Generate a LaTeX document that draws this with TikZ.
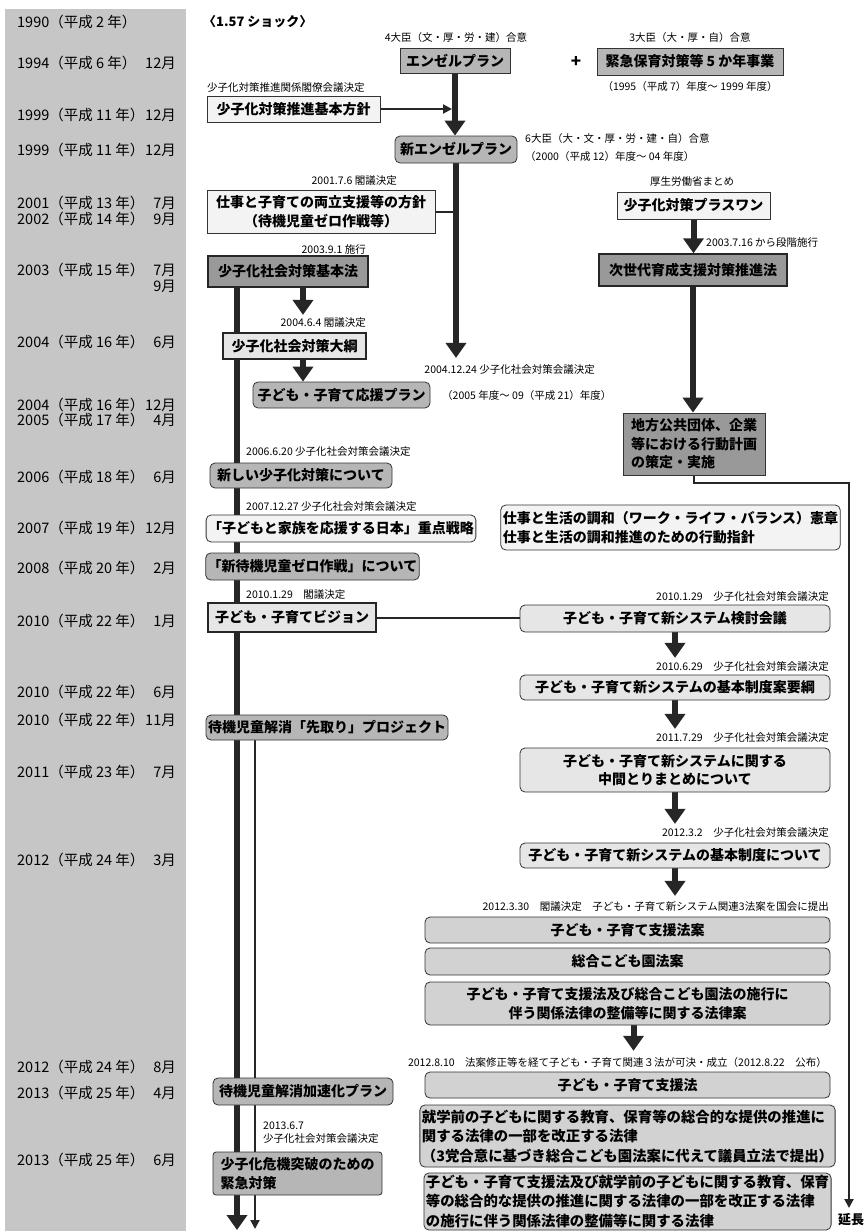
\documentclass[tikz,border=0pt]{standalone}
\usepackage{fontspec}
\setmainfont{Noto Sans CJK JP}
\usetikzlibrary{arrows.meta}

\definecolor{colYear}{HTML}{C6C6C6}
\definecolor{colMid}{HTML}{B6B6B6}
\definecolor{colDark}{HTML}{999999}
\definecolor{colLight}{HTML}{E6E6E6}
\definecolor{colBill}{HTML}{D2D2D2}
\definecolor{colPaper}{HTML}{F3F3F3}

\newcommand\fntBox{\fontsize{14}{18.5}\selectfont\bfseries}
\newcommand\fntWide{\fontsize{14.4}{19.5}\selectfont\bfseries}
\newcommand\fntNote{\fontsize{10.5}{13}\selectfont}
\newcommand\fntYear{\fontsize{14.5}{17}\selectfont}

\pgfdeclarelayer{background}
\pgfsetlayers{background,main}

\begin{document}
\begin{tikzpicture}[x=1pt, y=-1pt,
  box/.style={draw=black!80, line width=0.8pt, inner sep=2pt, align=center, font=\fntBox},
  rbox/.style={box, rounded corners=5pt},
  dbox/.style={box, draw=black!85, line width=1.4pt},
  note/.style={font=\fntNote, inner sep=1pt},
  yearlbl/.style={font=\fntYear, inner sep=0},
  bigarrow/.style={line width=6pt, draw=black!85, -{Triangle[width=20pt,length=15pt]}},
  thinarrow/.style={line width=2pt, draw=black!85, -{Triangle[width=9pt,length=9pt]}},
  link/.style={line width=2pt, draw=black!85}]

\useasboundingbox (0,0) rectangle (863,1231);

% year column
\foreach \yy/\yr/\mo [count=\i] in {
  22/{1990（平成 2 年）}/{},
  63/{1994（平成 6 年）}/{12月},
  115/{1999（平成 11 年）}/{12月},
  150/{1999（平成 11 年）}/{12月},
  203/{2001（平成 13 年）}/{7月},
  219/{2002（平成 14 年）}/{9月},
  270/{2003（平成 15 年）}/{7月},
  286/{}/{9月},
  342/{2004（平成 16 年）}/{6月},
  405/{2004（平成 16 年）}/{12月},
  420/{2005（平成 17 年）}/{4月},
  477/{2006（平成 18 年）}/{6月},
  528/{2007（平成 19 年）}/{12月},
  568/{2008（平成 20 年）}/{2月},
  621/{2010（平成 22 年）}/{1月},
  692/{2010（平成 22 年）}/{6月},
  720/{2010（平成 22 年）}/{11月},
  772/{2011（平成 23 年）}/{7月},
  860/{2012（平成 24 年）}/{3月},
  1067/{2012（平成 24 年）}/{8月},
  1093/{2013（平成 25 年）}/{4月},
  1160/{2013（平成 25 年）}/{6月}}
{
  \node[yearlbl, anchor=west] (year\i) at (17,\yy) {\yr};
  \node[yearlbl, anchor=east] (month\i) at (176,\yy) {\mo};
}

% top
\node[note, font=\fontsize{13}{15}\selectfont\bfseries, anchor=west] (shock) at (202,22) {〈1.57 ショック〉};
\node[note] (agree4) at (456,38) {4大臣（文・厚・労・建）合意};
\node[note] (agree3) at (690,38) {3大臣（大・厚・自）合意};
\node[box, fill=colMid, minimum width=110pt, minimum height=25pt] (planAngel) at (455,60.5) {エンゼルプラン};
\node[font=\fontsize{17}{17}\selectfont\bfseries] (plusSign) at (576,62) {+};
\node[box, fill=colMid, minimum width=186pt, minimum height=27pt] (planEmergency) at (690,61.5) {緊急保育対策等 5 か年事業};
\node[note] (period1) at (690,87) {（1995（平成 7）年度〜 1999 年度）};

\node[note, anchor=west] (cabinetNote) at (206,88) {少子化対策推進関係閣僚会議決定};
\node[box, fill=colPaper, minimum width=173pt, minimum height=26pt] (policyBasic) at (293.5,109) {少子化対策推進基本方針};

\node[rbox, fill=colMid, minimum width=122pt, minimum height=27pt] (planNewAngel) at (456,149.5) {新エンゼルプラン};
\node[note, anchor=west] (agree6) at (524,139) {6大臣（大・文・厚・労・建・自）合意};
\node[note, anchor=west] (period2) at (524,157) {（2000（平成 12）年度〜 04 年度）};

\node[note, anchor=east] (note010706) at (398,181) {2001.7.6 閣議決定};
\node[box, fill=colPaper, minimum width=228pt, minimum height=43pt] (policyWork) at (321,211.5) {仕事と子育ての両立支援等の方針\\（待機児童ゼロ作戦等）};

\node[note] (mhlwNote) at (692,182) {厚生労働省まとめ};
\node[box, fill=colPaper, minimum width=153pt, minimum height=27pt] (plusOne) at (693.5,205.5) {少子化対策プラスワン};
\node[note, anchor=west] (note030716) at (705,243) {2003.7.16 から段階施行};
\node[dbox, fill=colDark, minimum width=188pt, minimum height=32pt] (lawNext) at (693,270) {次世代育成支援対策推進法};

\node[note, anchor=east] (note030901) at (367,250) {2003.9.1 施行};
\node[dbox, fill=colDark, minimum width=160pt, minimum height=31pt] (lawBasic) at (288,271.5) {少子化社会対策基本法};
\node[note, anchor=east] (note040604) at (367,323) {2004.6.4 閣議決定};
\node[dbox, fill=colLight, minimum width=143pt, minimum height=26pt] (outline) at (294.5,346) {少子化社会対策大綱};
\node[note, anchor=east] (note041224) at (596,370) {2004.12.24 少子化社会対策会議決定};
\node[rbox, fill=colMid, minimum width=177pt, minimum height=26pt] (planSupport) at (341.5,395) {子ども・子育て応援プラン};
\node[note, anchor=west] (period3) at (441,396) {（2005 年度〜 09（平成 21）年度）};

\node[box, fill=colDark, minimum width=142pt, minimum height=62pt, align=left] (actionPlan) at (694,444) {地方公共団体、企業\\等における行動計画\\の策定・実施};

\node[note, anchor=west] (note060620) at (245,452) {2006.6.20 少子化社会対策会議決定};
\node[rbox, fill=colMid, minimum width=182pt, minimum height=25pt] (newMeasures) at (301,475.5) {新しい少子化対策について};
\node[note, anchor=west] (note071227) at (245,507) {2007.12.27 少子化社会対策会議決定};
\node[rbox, fill=colPaper, minimum width=268pt, minimum height=27pt] (strategy) at (341,528.5) {「子どもと家族を応援する日本」重点戦略};
\node[rbox, fill=colPaper, minimum width=335pt, minimum height=45pt, align=left] (charter) at (670.5,527.5) {仕事と生活の調和（ワーク・ライフ・バランス）憲章\\仕事と生活の調和推進のための行動指針};
\node[rbox, fill=colMid, minimum width=211pt, minimum height=27pt] (zeroWait) at (312.5,566.5) {「新待機児童ゼロ作戦」について};

\node[note, anchor=west] (note100129a) at (245,595) {2010.1.29　閣議決定};
\node[dbox, fill=colLight, minimum width=168pt, minimum height=29pt] (vision) at (292,617.5) {子ども・子育てビジョン};
\node[note, anchor=east] (note100129b) at (830,597) {2010.1.29　少子化社会対策会議決定};
\node[rbox, fill=colLight, minimum width=310pt, minimum height=27pt] (sysMeeting) at (675,618.5) {子ども・子育て新システム検討会議};
\node[note, anchor=east] (note100629) at (830,667) {2010.6.29　少子化社会対策会議決定};
\node[rbox, fill=colLight, minimum width=310pt, minimum height=25pt] (sysOutline) at (675,687.5) {子ども・子育て新システムの基本制度案要綱};
\node[rbox, fill=colMid, minimum width=230pt, minimum height=25pt] (waitFirst) at (327,727.5) {待機児童解消「先取り」プロジェクト};
\node[note, anchor=east] (note110729) at (830,738) {2011.7.29　少子化社会対策会議決定};
\node[rbox, fill=colLight, minimum width=310pt, minimum height=44pt] (sysInterim) at (675,770) {子ども・子育て新システムに関する\\中間とりまとめについて};
\node[note, anchor=east] (note120302) at (830,833) {2012.3.2　少子化社会対策会議決定};
\node[rbox, fill=colLight, minimum width=310pt, minimum height=25pt] (sysBasic) at (675,855.5) {子ども・子育て新システムの基本制度について};

\node[note, anchor=east] (note120330) at (830,907) {2012.3.30　閣議決定　子ども・子育て新システム関連3法案を国会に提出};
\node[rbox, fill=colBill, minimum width=405pt, minimum height=26pt] (billSupport) at (627.5,930) {子ども・子育て支援法案};
\node[rbox, fill=colBill, minimum width=405pt, minimum height=27pt] (billCenter) at (627.5,961.5) {総合こども園法案};
\node[rbox, fill=colBill, minimum width=405pt, minimum height=43pt] (billRelated) at (627.5,1003.5) {子ども・子育て支援法及び総合こども園法の施行に\\伴う関係法律の整備等に関する法律案};

\node[note, anchor=east] (note120810) at (828,1062) {2012.8.10　法案修正等を経て子ども・子育て関連３法が可決・成立（2012.8.22　公布）};
\node[rbox, fill=colBill, minimum width=405pt, minimum height=26pt] (actSupport) at (627.5,1085) {子ども・子育て支援法};
\node[rbox, fill=colBill, minimum width=405pt, minimum height=62pt, align=left, font=\fntWide] (actPreschool) at (627.5,1136) {就学前の子どもに関する教育、保育等の総合的な提供の推進に\\関する法律の一部を改正する法律\\（3党合意に基づき総合こども園法案に代えて議員立法で提出）};
\node[rbox, fill=colBill, minimum width=405pt, minimum height=57pt, align=left, font=\fntWide] (actRelated) at (627.5,1201.5) {子ども・子育て支援法及び就学前の子どもに関する教育、保育\\等の総合的な提供の推進に関する法律の一部を改正する法律\\の施行に伴う関係法律の整備等に関する法律};

\node[rbox, fill=colMid, minimum width=180pt, minimum height=27pt] (waitSpeed) at (303,1091.5) {待機児童解消加速化プラン};
\node[note, anchor=west, align=left] (note130607) at (262,1133) {2013.6.7\\少子化社会対策会議決定};
\node[box, fill=colMid, rounded corners=3pt, minimum width=169pt, minimum height=43pt, align=left] (crisis) at (297.5,1173.5) {少子化危機突破のための\\緊急対策};

\node[font=\fontsize{13}{15}\selectfont\bfseries, anchor=west, inner sep=0] (extendNote) at (838,1220) {延長};

\coordinate (thickEnd) at (237,1230);
\coordinate (thinEnd) at (255,1229);
\coordinate (extendEnd) at (849,1208);

\begin{pgfonlayer}{background}
\fill[colYear] (5,9) rectangle (186,1231);

\draw[bigarrow] (planAngel.south) -- (planAngel.south |- planNewAngel.north);
\draw[thinarrow, shorten >=3pt] (policyBasic.east) -- (policyBasic.east -| planAngel.south);
\draw[bigarrow, shorten >=6pt] (planNewAngel.south) -- (planNewAngel.south |- note041224.north);
\draw[link] (policyWork.east) -- (policyWork.east -| planNewAngel.south);

\draw[bigarrow] (plusOne.south) -- (plusOne.south |- lawNext.north);
\draw[bigarrow] (lawNext.south) -- (lawNext.south |- actionPlan.north);
\draw[thinarrow] (actionPlan.south) -- ([yshift=-8pt]actionPlan.south) -| (extendEnd);

\draw[bigarrow] (lawBasic.south -| thickEnd) -- (thickEnd);
\draw[bigarrow, shorten >=2pt] ([xshift=15pt]lawBasic.south) -- ([xshift=15pt]lawBasic.south |- note040604.north);
\draw[bigarrow] ([xshift=8.5pt]outline.south) -- ([xshift=8.5pt]outline.south |- planSupport.north);
\draw[thinarrow] (waitFirst.south -| thinEnd) -- (thinEnd);

\draw[link] (vision.east) -- (vision.east -| sysMeeting.west);
\draw[bigarrow, shorten >=3pt] (sysMeeting.south) -- (sysMeeting.south |- note100629.north);
\draw[bigarrow, shorten >=3pt] (sysOutline.south) -- (sysOutline.south |- note110729.north);
\draw[bigarrow, shorten >=3pt] (sysInterim.south) -- (sysInterim.south |- note120302.north);
\draw[bigarrow, shorten >=5pt] (sysBasic.south) -- (sysBasic.south |- note120330.north);
\draw[bigarrow, shorten >=5pt] ([xshift=6pt]billRelated.south) -- ([xshift=6pt]billRelated.south |- note120810.north);
\end{pgfonlayer}
\end{tikzpicture}
\end{document}
